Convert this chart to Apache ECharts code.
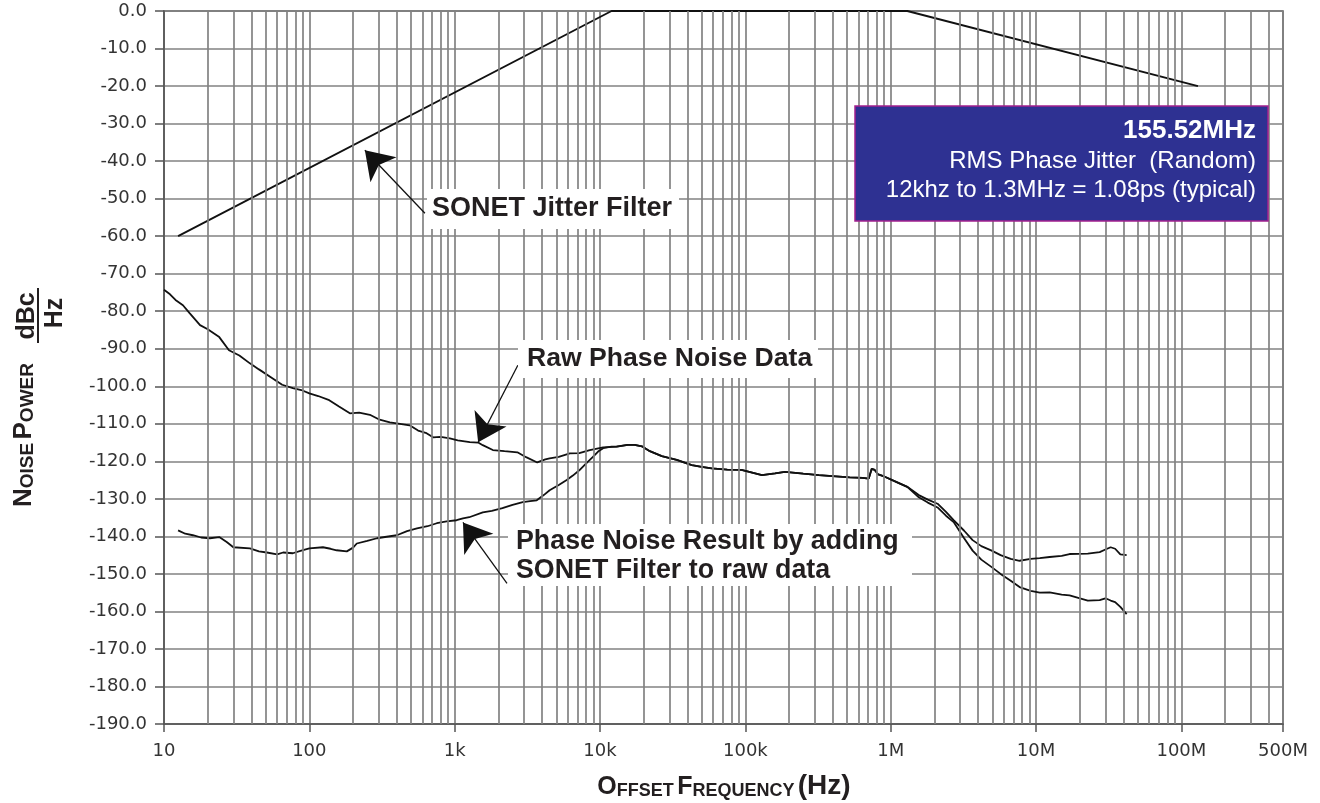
<!DOCTYPE html>
<html><head><meta charset="utf-8">
<script src="https://cdn.jsdelivr.net/npm/echarts@6/dist/echarts.min.js"></script>
<style>html,body{margin:0;padding:0;background:#fff}#c{width:1320px;height:803px}</style>
</head><body><div id="c"></div>
<script>
// ---- axis ticks ----
const xTickValues = [10, 100, 1000, 10000, 100000, 1000000, 10000000, 100000000, 500000000];
const xTickLabels = ['10', '100', '1k', '10k', '100k', '1M', '10M', '100M', '500M'];
const yMin = -190, yMax = 0, yStep = 10;

// ---- SONET jitter filter mask ----
const filterFreq = [12.5, 12000, 1300000, 130000000];
const filterDb   = [-60, 0, 0, -20];

// ---- raw phase noise data ----
const rawFreq = [10, 11, 12, 13.5, 15, 17.7, 20, 24, 28, 33, 39, 45, 56, 65, 77, 88, 100, 115, 137, 160, 190, 220, 261, 300, 358, 420, 490, 560, 640, 710, 800, 926, 1050, 1270, 1450, 1560, 1830, 2200, 2700, 3100, 3700, 4200, 4500, 5200, 6200, 7200, 8500, 10500, 13000, 15500, 17300, 19400, 22000, 26600, 33700, 42800, 50000, 58700, 75000, 94000, 130000, 160000, 187000, 250000, 320000, 420000, 522000, 640000, 706000, 740000, 776000, 820000, 910000, 1080000, 1300000, 1560000, 1800000, 2100000, 2400000, 2710000, 3200000, 3660000, 4200000, 4950000, 5700000, 6690000, 7700000, 9180000, 10600000, 12400000, 15000000, 17000000, 22700000, 27400000, 30000000, 32600000, 35000000, 38000000, 42000000];
const rawDb   = [-74.3, -75.5, -77.0, -78.4, -80.5, -83.7, -84.8, -86.9, -90.4, -91.8, -93.9, -95.5, -97.9, -99.6, -100.5, -101.0, -101.9, -102.6, -103.7, -105.4, -107.2, -107.0, -107.6, -108.8, -109.6, -110.0, -110.4, -111.8, -112.5, -113.6, -113.5, -113.9, -114.4, -114.9, -115.0, -115.7, -117.0, -117.3, -117.6, -118.9, -120.3, -119.5, -119.2, -118.8, -117.9, -117.8, -117.0, -116.3, -116.1, -115.6, -115.6, -116.0, -117.3, -118.6, -119.6, -121.0, -121.5, -121.9, -122.2, -122.3, -123.7, -123.2, -122.8, -123.3, -123.7, -124.0, -124.3, -124.4, -124.6, -122.0, -122.3, -123.5, -124.1, -125.4, -126.8, -129.0, -130.2, -131.3, -133.5, -135.7, -138.5, -141.0, -142.6, -143.8, -145.0, -146.0, -146.5, -146.0, -145.8, -145.5, -145.2, -144.7, -144.6, -144.2, -143.5, -142.9, -143.3, -144.8, -145.0];

// ---- phase noise result (raw data + SONET filter) ----
const resFreq = [12.5, 14, 15.8, 18, 20.7, 24, 27, 30, 39, 45, 51, 60, 66, 77, 88, 100, 124, 140, 154, 181, 200, 212, 250, 292, 340, 400, 470, 550, 650, 753, 880, 1030, 1140, 1260, 1560, 1800, 2130, 2500, 2940, 3300, 3670, 4100, 4500, 5200, 5900, 6500, 7200, 8000, 8900, 9700, 10500, 12000, 13000, 15500, 17300, 19400, 22000, 26600, 33700, 42800, 50000, 58700, 75000, 94000, 130000, 160000, 187000, 250000, 320000, 420000, 522000, 640000, 706000, 740000, 776000, 820000, 910000, 1080000, 1300000, 1560000, 1800000, 2100000, 2400000, 2710000, 3200000, 3660000, 4200000, 4950000, 5700000, 6690000, 7700000, 9180000, 10600000, 12400000, 15000000, 17000000, 22700000, 27400000, 30000000, 32600000, 35000000, 38000000, 42000000];
const resDb   = [-138.4, -139.3, -139.7, -140.3, -140.5, -140.2, -141.5, -142.9, -143.2, -144.0, -144.3, -144.8, -144.3, -144.5, -143.8, -143.2, -142.9, -143.3, -143.7, -144.0, -143.0, -141.9, -141.2, -140.5, -140.1, -139.7, -138.6, -137.9, -137.3, -136.5, -136.0, -135.7, -135.2, -134.9, -133.6, -133.2, -132.5, -131.6, -130.9, -130.6, -130.4, -129.0, -127.7, -126.3, -125.0, -123.8, -122.4, -120.6, -118.9, -117.4, -116.5, -116.1, -116.1, -115.6, -115.6, -116.0, -117.3, -118.6, -119.6, -121.0, -121.5, -121.9, -122.2, -122.3, -123.7, -123.2, -122.8, -123.3, -123.7, -124.0, -124.3, -124.4, -124.6, -122.0, -122.3, -123.5, -124.1, -125.4, -126.8, -129.6, -131.0, -132.3, -134.5, -136.2, -140.5, -143.8, -146.2, -148.2, -150.0, -151.8, -153.5, -154.5, -155.0, -154.9, -155.5, -155.7, -157.1, -157.0, -156.5, -157.1, -157.5, -158.8, -160.7];

// ---- annotation arrows (tail -> tip, data coords) ----
const arrowFilter = [[624, -53.9], [241, -37.1]];
const arrowRaw    = [[2720, -94.4], [1450, -114.9]];
const arrowRes    = [[2290, -152.5], [1140, -136.3]];

const pairs = (xs, ys) => xs.map((x, i) => [x, ys[i]]);

// minor vertical grid lines (2..9 per decade, up to 400M)
const minorGrid = [];
for (let d = 10; d <= 1e8; d *= 10) {
  for (let m = 2; m <= 9; m++) {
    const v = d * m;
    if (v < 5e8) minorGrid.push({ xAxis: v });
  }
}

function xLabel(v) {
  for (let i = 0; i < xTickValues.length; i++) {
    if (Math.abs(Math.log10(v) - Math.log10(xTickValues[i])) < 1e-6) return xTickLabels[i];
  }
  return '';
}

const gridColor = '#828282';
const axisColor = '#555';
const tickFont = 'DejaVu Sans';
const annoFont = 'Liberation Sans';
const ink = '#231f20';

const chart = echarts.init(document.getElementById('c'), null, { renderer: 'canvas' });
chart.setOption({
  animation: false,
  backgroundColor: '#fff',
  grid: { left: 164, top: 11, right: 37, bottom: 79, show: true, borderColor: axisColor, borderWidth: 1.5, backgroundColor: 'transparent' },
  xAxis: {
    type: 'log', logBase: 10, min: 10, max: 5e8, interval: 1, position: 'bottom',
    axisLine: { show: true, onZero: false, lineStyle: { color: axisColor, width: 1.5 } },
    axisTick: { show: true, length: 8, lineStyle: { color: axisColor, width: 1.5 } },
    axisLabel: { formatter: xLabel, fontFamily: tickFont, fontSize: 18, color: '#333', margin: 18, showMinLabel: true, showMaxLabel: true },
    splitLine: { show: true, lineStyle: { color: gridColor, width: 1.7 } }
  },
  yAxis: {
    type: 'value', min: yMin, max: yMax, interval: yStep,
    axisLine: { show: true, onZero: false, lineStyle: { color: axisColor, width: 1.5 } },
    axisTick: { show: true, length: 9, lineStyle: { color: axisColor, width: 1.5 } },
    axisLabel: { formatter: v => v.toFixed(1), fontFamily: tickFont, fontSize: 18, color: '#333', margin: 17 },
    splitLine: { show: true, lineStyle: { color: gridColor, width: 1.7 } }
  },
  series: [
    {
      name: 'minor-grid', type: 'line', data: [], z: 1, silent: true,
      markLine: { silent: true, symbol: ['none', 'none'], label: { show: false },
        lineStyle: { color: gridColor, width: 1.7, type: 'solid' }, data: minorGrid, animation: false }
    },
    {
      name: 'SONET Jitter Filter', type: 'line', data: pairs(filterFreq, filterDb), z: 3,
      showSymbol: false, lineStyle: { color: '#111', width: 1.9 }
    },
    {
      name: 'Raw Phase Noise Data', type: 'line', data: pairs(rawFreq, rawDb), z: 3,
      showSymbol: false, lineStyle: { color: '#111', width: 1.8 }
    },
    {
      name: 'Phase Noise Result', type: 'line', data: pairs(resFreq, resDb), z: 3,
      showSymbol: false, lineStyle: { color: '#111', width: 1.8 },
      markLine: {
        silent: true, symbol: ['none', 'arrow'], symbolSize: 27, label: { show: false },
        lineStyle: { color: '#111', width: 1.3, type: 'solid' },
        data: [
          [{ coord: arrowFilter[0] }, { coord: arrowFilter[1] }],
          [{ coord: arrowRaw[0] }, { coord: arrowRaw[1] }],
          [{ coord: arrowRes[0] }, { coord: arrowRes[1] }]
        ]
      }
    }
  ],
  graphic: [
    // annotation label boxes
    { type: 'rect', shape: { x: 427, y: 189, width: 252, height: 40 }, style: { fill: '#fff' }, z: 50 },
    { type: 'text', x: 432, y: 209, z: 51, style: { text: 'SONET Jitter Filter', font: 'bold 27px "' + annoFont + '"', fill: ink, verticalAlign: 'middle' } },
    { type: 'rect', shape: { x: 518, y: 340, width: 300, height: 38 }, style: { fill: '#fff' }, z: 50 },
    { type: 'text', x: 527, y: 359, z: 51, style: { text: 'Raw Phase Noise Data', font: 'bold 26.6px "' + annoFont + '"', fill: ink, verticalAlign: 'middle' } },
    { type: 'rect', shape: { x: 508, y: 524, width: 404, height: 62 }, style: { fill: '#fff' }, z: 50 },
    { type: 'text', x: 516, y: 542, z: 51, style: { text: 'Phase Noise Result by adding', font: 'bold 26.8px "' + annoFont + '"', fill: ink, verticalAlign: 'middle' } },
    { type: 'text', x: 516, y: 571, z: 51, style: { text: 'SONET Filter to raw data', font: 'bold 26.8px "' + annoFont + '"', fill: ink, verticalAlign: 'middle' } },
    // info box
    { type: 'rect', shape: { x: 855, y: 106, width: 413, height: 115 }, style: { fill: '#2e3192', stroke: '#a3218e', lineWidth: 1.5 }, z: 50 },
    { type: 'text', x: 1256, y: 131, z: 51, style: { text: '155.52MHz', font: 'bold 26px "' + annoFont + '"', fill: '#fff', align: 'right', verticalAlign: 'middle' } },
    { type: 'text', x: 1256, y: 161, z: 51, style: { text: 'RMS Phase Jitter  (Random)', font: '24px "' + annoFont + '"', fill: '#fff', align: 'right', verticalAlign: 'middle' } },
    { type: 'text', x: 1256, y: 190, z: 51, style: { text: '12khz to 1.3MHz = 1.08ps (typical)', font: '24px "' + annoFont + '"', fill: '#fff', align: 'right', verticalAlign: 'middle' } },
    // y axis title
    { type: 'text', x: 24, y: 435, rotation: Math.PI / 2, z: 51,
      style: { text: '{b|N}{s|OISE} {b|P}{s|OWER}', align: 'center', verticalAlign: 'middle', fill: ink,
        rich: { b: { fontSize: 26, fontWeight: 'bold', fontFamily: annoFont, fill: ink, verticalAlign: 'bottom', lineHeight: 26 },
                s: { fontSize: 19, fontWeight: 'bold', fontFamily: annoFont, fill: ink, verticalAlign: 'bottom', lineHeight: 26 } } } },
    { type: 'text', x: 27, y: 316, rotation: Math.PI / 2, z: 51, style: { text: 'dBc', font: 'bold 25px "' + annoFont + '"', fill: ink, align: 'center', verticalAlign: 'middle' } },
    { type: 'line', shape: { x1: 38, y1: 288, x2: 38, y2: 343 }, style: { stroke: ink, lineWidth: 2 }, z: 51 },
    { type: 'text', x: 55, y: 313, rotation: Math.PI / 2, z: 51, style: { text: 'Hz', font: 'bold 25px "' + annoFont + '"', fill: ink, align: 'center', verticalAlign: 'middle' } },
    // x axis title
    { type: 'text', x: 724, y: 786, z: 51,
      style: { text: '{b|O}{s|FFSET} {b|F}{s|REQUENCY} {p|(Hz)}', align: 'center', verticalAlign: 'middle', fill: ink,
        rich: { b: { fontSize: 25, fontWeight: 'bold', fontFamily: annoFont, fill: ink, verticalAlign: 'bottom', lineHeight: 28 },
                s: { fontSize: 18, fontWeight: 'bold', fontFamily: annoFont, fill: ink, verticalAlign: 'bottom', lineHeight: 28 },
                p: { fontSize: 28, fontWeight: 'bold', fontFamily: annoFont, fill: ink, verticalAlign: 'bottom', lineHeight: 28 } } } }
  ]
});
</script>
</body></html>
